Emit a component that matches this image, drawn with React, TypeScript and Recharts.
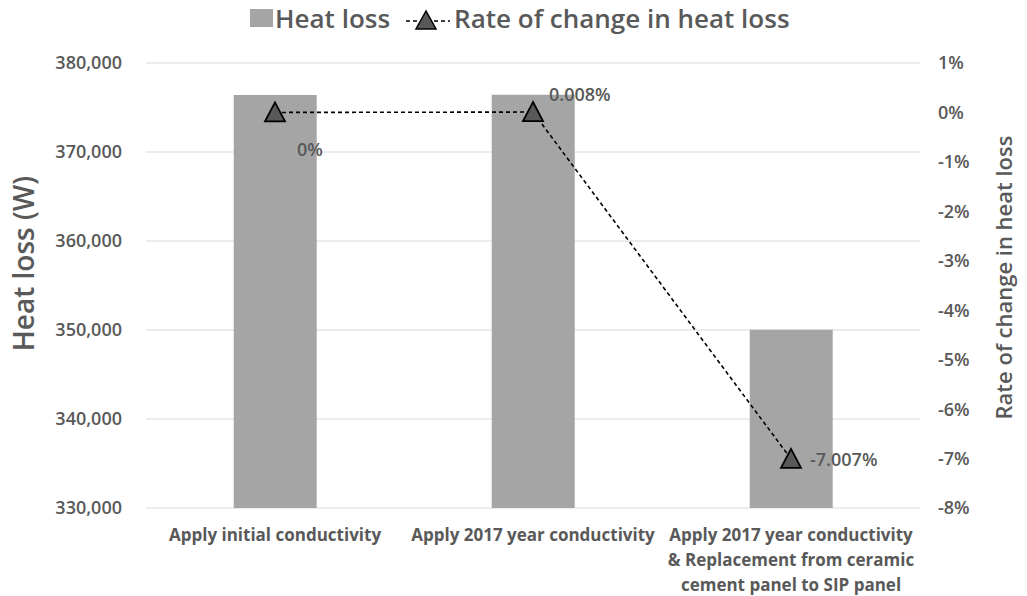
import React from "react";
import {
  ComposedChart,
  Bar,
  Line,
  XAxis,
  YAxis,
  CartesianGrid,
} from "recharts";

const categories = [
  "Apply initial conductivity",
  "Apply 2017 year conductivity",
  "Apply 2017 year conductivity & Replacement from ceramic cement panel to SIP panel",
];
const heatLoss = [376400, 376430, 350025];
const rateOfChange = [0, 0.008, -7.007];
const leftTicks = [330000, 340000, 350000, 360000, 370000, 380000];
const rightTicks = [-8, -7, -6, -5, -4, -3, -2, -1, 0, 1];

const data = categories.map((name, i) => ({
  name,
  heat: heatLoss[i],
  rate: rateOfChange[i],
}));

const GREY_TEXT = "#595959";
const FONT = "'Open Sans', 'Noto Sans', sans-serif";
const NARROW = "'Liberation Sans Narrow', 'Open Sans', sans-serif";

// where each line label sits relative to its point
const labelOffsets = [
  { dx: 22, dy: 44 },
  { dx: 16, dy: -11 },
  { dx: 19, dy: 7 },
];

function wrap(text: string, max: number) {
  const words = text.split(" ");
  const lines: string[] = [];
  let cur = "";
  for (const w of words) {
    const next = cur ? cur + " " + w : w;
    if (next.length > max && cur) {
      lines.push(cur);
      cur = w;
    } else {
      cur = next;
    }
  }
  if (cur) lines.push(cur);
  return lines;
}

function CategoryTick(props: any) {
  const { x, y, payload } = props;
  const lines = wrap(payload.value, 28);
  return (
    <text
      x={x}
      y={y}
      textAnchor="middle"
      fill={GREY_TEXT}
      fontFamily={NARROW}
      fontWeight={700}
      fontSize={17}
    >
      {lines.map((l, i) => (
        <tspan key={i} x={x} dy={25}>
          {l}
        </tspan>
      ))}
    </text>
  );
}

function Triangle(props: any) {
  const { cx, cy } = props;
  if (cx == null || cy == null) return null;
  return (
    <polygon
      points={`${cx},${cy - 10} ${cx - 10},${cy + 9} ${cx + 10},${cy + 9}`}
      fill="#595959"
      stroke="#000"
      strokeWidth={1.8}
    />
  );
}

function RateLabel(props: any) {
  const { x, y, value, index } = props;
  const o = labelOffsets[index];
  const txt = value === 0 ? "0%" : `${value.toFixed(3)}%`;
  return (
    <text
      x={x + o.dx}
      y={y + o.dy}
      textAnchor="start"
      fill={GREY_TEXT}
      fontFamily={FONT}
      fontWeight={600}
      fontSize={18}
    >
      {txt}
    </text>
  );
}

function Legend() {
  return (
    <div
      style={{
        position: "absolute",
        left: 250,
        top: 0,
        height: 36,
        display: "flex",
        alignItems: "center",
        fontFamily: FONT,
        fontWeight: 600,
        fontSize: 26,
        color: GREY_TEXT,
        whiteSpace: "nowrap",
      }}
    >
      <span style={{ display: "inline-block", width: 23, height: 18, background: "#a5a5a5", marginRight: 2 }} />
      <span>Heat loss</span>
      <svg width={48} height={30} style={{ marginLeft: 14 }}>
        <line x1={2} y1={18} x2={46} y2={18} stroke="#000" strokeWidth={1.5} strokeDasharray="4 3" />
        <polygon points="22,8 12,26 32,26" fill="#595959" stroke="#000" strokeWidth={1.5} />
      </svg>
      <span style={{ marginLeft: 2 }}>Rate of change in heat loss</span>
    </div>
  );
}

function AxisTitle({ x, y, size, text }: { x: number; y: number; size: number; text: string }) {
  return (
    <text
      x={x}
      y={y}
      transform={`rotate(-90 ${x} ${y})`}
      textAnchor="middle"
      dominantBaseline="central"
      fill={GREY_TEXT}
      fontFamily={FONT}
      fontWeight={600}
      fontSize={size}
    >
      {text}
    </text>
  );
}

export default function App() {
  return (
    <div style={{ position: "absolute", left: 0, top: 0, width: 1027, height: 596, background: "#fff" }}>
      <Legend />
      <ComposedChart
        width={1027}
        height={596}
        data={data}
        margin={{ top: 63, right: 0, bottom: 0, left: 0 }}
        barCategoryGap="34%"
      >
        <CartesianGrid yAxisId="left" vertical={false} stroke="#d9d9d9" strokeWidth={1.2} />
        <XAxis
          dataKey="name"
          height={88}
          axisLine={false}
          tickLine={false}
          interval={0}
          tick={<CategoryTick />}
        />
        <YAxis
          yAxisId="left"
          width={146}
          domain={[330000, 380000]}
          ticks={leftTicks}
          axisLine={false}
          tickLine={false}
          tickSize={0}
          tickMargin={24}
          tickFormatter={(v: number) => v.toLocaleString("en-US")}
          tick={{ fill: GREY_TEXT, fontFamily: FONT, fontWeight: 600, fontSize: 18 }}
          label={(p: any) => (
            <AxisTitle x={23} y={p.viewBox.y + p.viewBox.height / 2 - 22} size={28} text="Heat loss (W)" />
          )}
        />
        <YAxis
          yAxisId="right"
          orientation="right"
          width={107}
          domain={[-8, 1]}
          ticks={rightTicks}
          axisLine={false}
          tickLine={false}
          tickSize={0}
          tickMargin={18}
          tickFormatter={(v: number) => `${v}%`}
          tick={{ fill: GREY_TEXT, fontFamily: FONT, fontWeight: 600, fontSize: 18, textAnchor: "start" }}
          label={(p: any) => (
            <AxisTitle
              x={1003}
              y={p.viewBox.y + p.viewBox.height / 2 - 8}
              size={22}
              text="Rate of change in heat loss"
            />
          )}
        />
        <Bar yAxisId="left" dataKey="heat" fill="#a5a5a5" isAnimationActive={false} />
        <Line
          yAxisId="right"
          dataKey="rate"
          stroke="#000"
          strokeWidth={1.6}
          strokeDasharray="4 3"
          dot={<Triangle />}
          activeDot={false}
          label={<RateLabel />}
          isAnimationActive={false}
        />
      </ComposedChart>
    </div>
  );
}
